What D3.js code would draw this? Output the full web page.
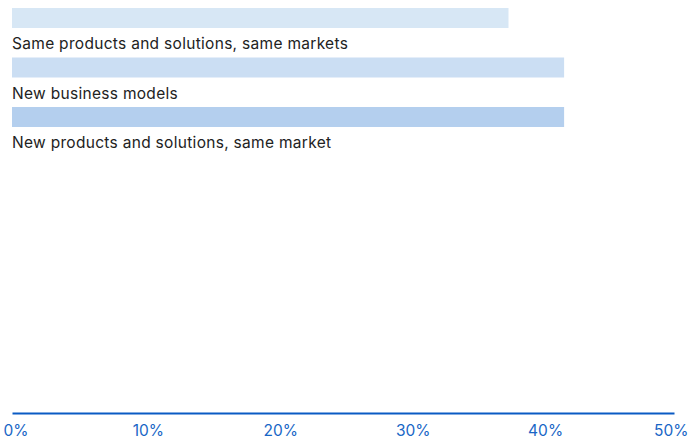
<!DOCTYPE html>
<html>
<head>
<meta charset="utf-8">
<script src="https://cdn.jsdelivr.net/npm/d3@7"></script>
<style>
  html, body { margin: 0; padding: 0; background: #fff; }
  svg { display: block; }
  text { font-family: Inter, "Noto Sans", sans-serif; }
</style>
</head>
<body>
<svg id="chart" width="691" height="440"></svg>
<script>
// Share of respondents by innovation type
const categories = [
  "Same products and solutions, same markets",
  "New business models",
  "New products and solutions, same market"
];
const values = [37.5, 41.7, 41.7];
const barColors = ["#d7e7f5", "#cbdef3", "#b4cfee"];
const tickValues = [0, 10, 20, 30, 40, 50];
const tickLabels = ["0%", "10%", "20%", "30%", "40%", "50%"];

const svg = d3.select("#chart");

const x = d3.scaleLinear().domain([0, 50]).range([12, 674]);
const y = d3.scaleBand().domain(categories).range([8, 8 + 49.5 * 3]).paddingInner(0).paddingOuter(0);
const barH = 20;

// bars
svg.append("g").selectAll("rect")
  .data(categories)
  .join("rect")
  .attr("x", x(0))
  .attr("y", d => y(d))
  .attr("width", (d, i) => x(values[i]) - x(0))
  .attr("height", barH)
  .attr("fill", (d, i) => barColors[i]);

// category labels beneath each bar
svg.append("g").selectAll("text")
  .data(categories)
  .join("text")
  .attr("x", x(0))
  .attr("y", d => y(d) + 41)
  .attr("fill", "#222")
  .attr("font-size", 15.5)
  .attr("letter-spacing", 0.3)
  .text(d => d);

// bottom axis
const axis = d3.axisBottom(x)
  .tickValues(tickValues)
  .tickFormat((d, i) => tickLabels[i])
  .tickSize(0)
  .tickPadding(0);

const gAxis = svg.append("g")
  .attr("transform", "translate(0,413)")
  .call(axis);

gAxis.select(".domain").attr("stroke", "#0a5bc4").attr("stroke-width", 2);
gAxis.selectAll(".tick text")
  .attr("fill", "#1866c6")
  .attr("font-size", 15.5)
  .attr("font-family", "Inter, \"Noto Sans\", sans-serif")
  .attr("dy", null)
  .attr("y", 23)
  .attr("dx", 3.5)
  .attr("text-anchor", (d, i) => i === 0 ? "start" : (i === tickValues.length - 1 ? "end" : "middle"))
  .attr("transform", (d, i) => i === 0 ? "translate(-12.5,0)" : (i === tickValues.length - 1 ? "translate(10.5,0)" : null));
</script>
</body>
</html>
